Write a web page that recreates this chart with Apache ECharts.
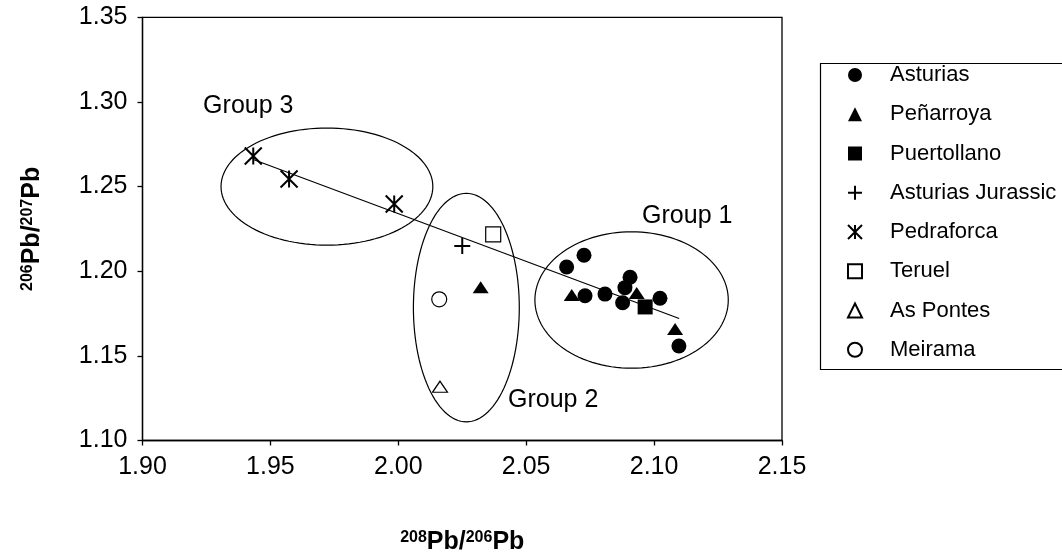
<!DOCTYPE html>
<html>
<head>
<meta charset="utf-8">
<script src="https://cdn.jsdelivr.net/npm/echarts@6/dist/echarts.min.js"></script>
<style>
html,body{margin:0;padding:0;background:#fff;}
#chart{width:1062px;height:554px;}
</style>
</head>
<body>
<div id="chart"></div>
<script>
// ---- data ----
const xTicks = [1.90, 2.15];
const yTicks = [1.10, 1.35];
const asturias = [[2.0658,1.2025],[2.0726,1.2094],[2.0730,1.1855],[2.0808,1.1865],[2.0877,1.1814],[2.0886,1.1903],[2.0906,1.1964],[2.1023,1.1840],[2.1097,1.1558]];
const penarroya = [[2.0322,1.1905],[2.0678,1.1860],[2.0932,1.1871],[2.1082,1.1659]];
const puertollano = [[2.0965,1.1789]];
const asturiasJurassic = [[2.0250,1.2149]];
const pedraforca = [[1.9433,1.2681],[1.9573,1.2545],[1.9984,1.2397]];
const teruel = [[2.0371,1.2218]];
const asPontes = [[2.0163,1.1318]];
const meirama = [[2.0160,1.1834]];
const trendLine = [[1.9433,1.2660],[2.1098,1.1721]];
const groupNames = ['Group 3','Group 2','Group 1'];
const groupCenters = [[1.9721,1.2500],[2.0266,1.1785],[2.0912,1.1830]];
const groupRadii = [[0.0414,0.0346],[0.0207,0.0675],[0.0378,0.0403]];
const groupLabelPos = [[1.9237,1.2976],[2.0429,1.1236],[2.0953,1.2326]];

const FONT = '"Liberation Sans", Arial, sans-serif';
const chart = echarts.init(document.getElementById('chart'), null, {renderer:'canvas'});

const starPath = 'path://M0 0L16 16M16 0L0 16M8 0L8 16';
const crossPath = 'path://M8 0L8 16M0 8L16 8';

const ellipseData = groupCenters.map((c,i)=>[c[0],c[1],groupRadii[i][0],groupRadii[i][1]]);
const labelData = groupLabelPos.map((p,i)=>[p[0],p[1],groupNames[i]]);

const filled = {color:'#000',opacity:1};
const hollow = {color:'#fff',borderColor:'#000',borderWidth:1.2,opacity:1};
const stroked = {color:'rgba(0,0,0,0)',borderColor:'#000',borderWidth:2,opacity:1};

const option = {
  animation:false,
  backgroundColor:'#fff',
  grid:{left:142.5,right:280,top:17.3,bottom:113.5,show:true,borderColor:'#000',borderWidth:1.3,backgroundColor:'transparent',containLabel:false,outerBoundsMode:'none'},
  xAxis:{
    type:'value',min:xTicks[0],max:xTicks[1],interval:0.05,
    axisLine:{show:true,lineStyle:{color:'#000',width:1.3}},
    axisTick:{show:true,inside:false,length:5,lineStyle:{color:'#000',width:1.3}},
    splitLine:{show:false},
    axisLabel:{color:'#000',fontFamily:FONT,fontSize:25,margin:14,formatter:v=>v.toFixed(2)},
    name:'{sup|208}{b|Pb/}{sup|206}{b|Pb}',
    nameLocation:'middle',nameGap:89,
    nameTextStyle:{rich:{
      b:{fontFamily:FONT,fontSize:25,fontWeight:'bold',color:'#000',lineHeight:26},
      sup:{fontFamily:FONT,fontSize:16,fontWeight:'bold',color:'#000',lineHeight:16,verticalAlign:'top'}
    }}
  },
  yAxis:{
    type:'value',min:yTicks[0],max:yTicks[1],interval:0.05,
    axisLine:{show:true,lineStyle:{color:'#000',width:1.3}},
    axisTick:{show:true,inside:false,length:5,lineStyle:{color:'#000',width:1.3}},
    splitLine:{show:false},
    axisLabel:{color:'#000',fontFamily:FONT,fontSize:25,margin:15,formatter:v=>v.toFixed(2)},
    name:'{sup|206}{b|Pb/}{sup|207}{b|Pb}',
    nameLocation:'middle',nameGap:97,nameRotate:90,
    nameTextStyle:{rich:{
      b:{fontFamily:FONT,fontSize:25,fontWeight:'bold',color:'#000',lineHeight:26},
      sup:{fontFamily:FONT,fontSize:16,fontWeight:'bold',color:'#000',lineHeight:16,verticalAlign:'top'}
    }}
  },
  legend:{
    orient:'vertical',left:842,top:59,itemWidth:14,itemHeight:14,itemGap:17.25,
    selectedMode:false,
    textStyle:{fontFamily:FONT,fontSize:22,color:'#000',lineHeight:22,padding:[0,0,0,23]},
    data:['Asturias','Peñarroya','Puertollano','Asturias Jurassic','Pedraforca','Teruel','As Pontes','Meirama']
  },
  graphic:[{type:'rect',left:818,top:61,shape:{width:300,height:306},style:{fill:'none',stroke:'#000',lineWidth:1.2},silent:true}],
  series:[
    {type:'custom',name:'ellipses',silent:true,data:ellipseData,z:1,
     renderItem:(params,api)=>{
       const c = api.coord([api.value(0),api.value(1)]);
       const s = api.size([api.value(2),api.value(3)]);
       const pts=[];
       for(let k=0;k<=120;k++){const t=k/120*2*Math.PI;pts.push([c[0]+s[0]*Math.cos(t),c[1]+s[1]*Math.sin(t)]);}
       return {type:'polyline',shape:{points:pts},style:{stroke:'#000',lineWidth:1.2,fill:null}};
     }},
    {type:'custom',name:'groupLabels',silent:true,data:labelData,z:5,
     renderItem:(params,api)=>{
       const c = api.coord([api.value(0),api.value(1)]);
       return {type:'text',x:c[0],y:c[1],style:{text:groupNames[params.dataIndex],fontFamily:FONT,fontSize:25,fill:'#000',align:'left',verticalAlign:'middle'}};
     }},
    {type:'line',name:'trend',data:trendLine,symbol:'none',lineStyle:{color:'#000',width:1.2},z:2,silent:true},
    {type:'scatter',name:'Asturias',data:asturias,symbol:'circle',symbolSize:15,itemStyle:filled,z:3},
    {type:'scatter',name:'Peñarroya',data:penarroya,symbol:'triangle',symbolSize:[16,12],itemStyle:filled,z:3},
    {type:'scatter',name:'Puertollano',data:puertollano,symbol:'rect',symbolSize:15,itemStyle:filled,z:3},
    {type:'scatter',name:'Asturias Jurassic',data:asturiasJurassic,symbol:crossPath,symbolSize:16,itemStyle:stroked,z:3},
    {type:'scatter',name:'Pedraforca',data:pedraforca,symbol:starPath,symbolSize:17,itemStyle:stroked,z:3},
    {type:'scatter',name:'Teruel',data:teruel,symbol:'rect',symbolSize:15,itemStyle:hollow,z:3},
    {type:'scatter',name:'As Pontes',data:asPontes,symbol:'triangle',symbolSize:[15,11],itemStyle:hollow,z:3},
    {type:'scatter',name:'Meirama',data:meirama,symbol:'circle',symbolSize:15,itemStyle:hollow,z:3}
  ]
};
chart.setOption(option);
</script>
</body>
</html>
